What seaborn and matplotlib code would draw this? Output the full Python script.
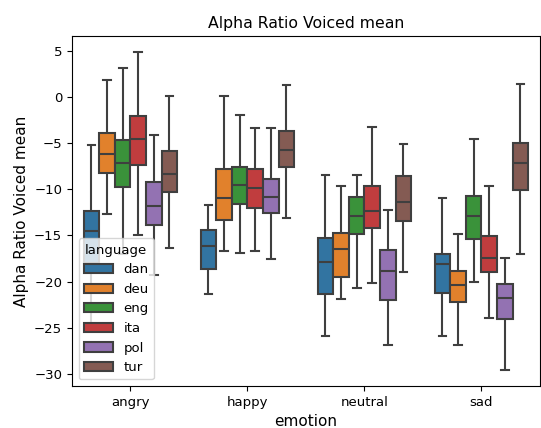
import numpy as np
import pandas as pd
import seaborn as sns
import matplotlib.pyplot as plt

emotions = ["angry", "happy", "neutral", "sad"]
languages = ["dan", "deu", "eng", "ita", "pol", "tur"]

# box summaries, one row per emotion, columns follow `languages`
whisker_low = [
    [-24.5, -12.7, -17.0, -15.0, -19.3, -16.4],
    [-21.3, -16.7, -16.9, -16.7, -17.5, -13.1],
    [-25.9, -21.9, -20.7, -20.2, -26.9, -19.0],
    [-25.9, -26.9, -20.0, -24.0, -29.6, -17.0],
]
quart1 = [
    [-18.0, -8.2, -9.8, -7.4, -13.9, -10.3],
    [-18.6, -13.3, -11.6, -12.0, -12.6, -7.6],
    [-21.4, -19.5, -14.8, -14.2, -22.0, -13.4],
    [-21.2, -22.2, -15.4, -19.0, -24.1, -10.1],
]
median = [
    [-14.5, -6.2, -7.2, -4.5, -11.8, -8.3],
    [-16.1, -10.9, -9.5, -9.9, -10.8, -5.7],
    [-17.9, -16.5, -12.9, -12.3, -18.8, -11.4],
    [-18.1, -20.4, -12.9, -17.4, -21.8, -7.2],
]
quart3 = [
    [-12.3, -3.9, -4.7, -2.1, -9.2, -5.8],
    [-14.4, -7.8, -7.6, -7.8, -8.9, -3.7],
    [-15.3, -14.7, -10.8, -9.6, -16.6, -8.6],
    [-17.0, -18.8, -10.7, -15.1, -20.3, -5.0],
]
whisker_high = [
    [-5.2, 1.9, 3.1, 4.9, -4.1, 0.1],
    [-11.7, 0.1, -1.9, -3.4, -3.4, 1.3],
    [-8.5, -9.6, -8.5, -3.2, -12.2, -5.1],
    [-10.9, -14.8, -4.5, -9.6, -17.4, 1.4],
]

rows = []
for i, emo in enumerate(emotions):
    for j, lang in enumerate(languages):
        for stat in (whisker_low, quart1, median, quart3, whisker_high):
            rows.append({"emotion": emo, "language": lang,
                         "Alpha Ratio Voiced mean": stat[i][j]})
df = pd.DataFrame(rows)

fig = plt.figure(figsize=(5.41, 4.28), dpi=100)
ax = fig.add_subplot(111)
fig.subplots_adjust(left=0.133, right=0.998, top=0.916, bottom=0.098)

sns.boxplot(data=df, x="emotion", y="Alpha Ratio Voiced mean", hue="language",
            order=emotions, hue_order=languages, whis=np.inf, showfliers=False,
            linecolor="#3f3f3f", linewidth=1.5, ax=ax)

ax.set_title("Alpha Ratio Voiced mean", fontsize=11.3)
ax.set_xlabel("emotion", fontsize=11)
ax.set_ylabel("Alpha Ratio Voiced mean", fontsize=11)
ax.tick_params(labelsize=9.5)
ax.legend(title="language", loc="lower left", fontsize=9.5, title_fontsize=9.5,
          handlelength=2.2)

fig.savefig("out.png", dpi=100)
